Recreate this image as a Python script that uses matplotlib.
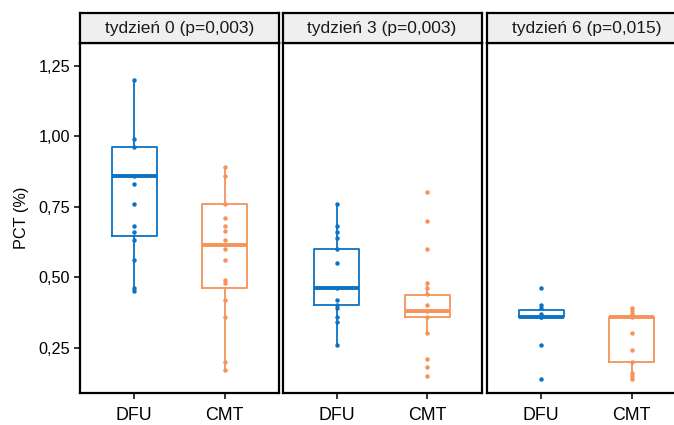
import matplotlib
matplotlib.use("Agg")
import matplotlib.pyplot as plt

plt.rcParams['font.family'] = ['Liberation Sans', 'DejaVu Sans']

panels = ["tydzień 0 (p=0,003)", "tydzień 3 (p=0,003)", "tydzień 6 (p=0,015)"]
groups = ["DFU", "CMT"]
colors = {"DFU": "#0b72c4", "CMT": "#f5935a"}

# raw points
w0_dfu = [1.20, 0.99, 0.96, 0.86, 0.83, 0.76, 0.68, 0.66, 0.63, 0.56, 0.46, 0.45]
w0_cmt = [0.89, 0.86, 0.76, 0.71, 0.68, 0.665, 0.63, 0.60, 0.56, 0.49, 0.48, 0.42, 0.36, 0.20, 0.17]
w3_dfu = [0.76, 0.68, 0.66, 0.64, 0.60, 0.55, 0.46, 0.42, 0.40, 0.39, 0.36, 0.34, 0.26]
w3_cmt = [0.80, 0.70, 0.60, 0.48, 0.46, 0.44, 0.40, 0.38, 0.36, 0.30, 0.21, 0.18, 0.15]
w6_dfu = [0.46, 0.40, 0.39, 0.37, 0.36, 0.36, 0.26, 0.14]
w6_cmt = [0.39, 0.38, 0.37, 0.36, 0.30, 0.24, 0.20, 0.16, 0.15, 0.14]

# box statistics: (whislo, q1, median, q3, whishi)
w0_dfu_box = (0.45, 0.645, 0.86, 0.96, 1.20)
w0_cmt_box = (0.17, 0.46, 0.615, 0.76, 0.89)
w3_dfu_box = (0.26, 0.40, 0.46, 0.60, 0.76)
w3_cmt_box = (0.30, 0.36, 0.38, 0.435, 0.48)
w6_dfu_box = (0.357, 0.357, 0.36, 0.385, 0.40)
w6_cmt_box = (0.14, 0.20, 0.36, 0.36, 0.39)

points = [(w0_dfu, w0_cmt), (w3_dfu, w3_cmt), (w6_dfu, w6_cmt)]
boxes = [(w0_dfu_box, w0_cmt_box), (w3_dfu_box, w3_cmt_box), (w6_dfu_box, w6_cmt_box)]

yticks = [0.25, 0.50, 0.75, 1.00, 1.25]
ytick_labels = ["0,25", "0,50", "0,75", "1,00", "1,25"]
ylabel = "PCT (%)"

W, H = 674, 425
fig = plt.figure(figsize=(W / 100, H / 100), dpi=100)

lefts = [80, 282.5, 487]
pw = 199
bottom_px = 393
top_px = 43
strip_top = 13

for i, left in enumerate(lefts):
    ax = fig.add_axes([left / W, (H - bottom_px) / H, pw / W, (bottom_px - top_px) / H])
    for j, g in enumerate(groups):
        c = colors[g]
        lo, q1, med, q3, hi = boxes[i][j]
        st = [dict(whislo=lo, q1=q1, med=med, q3=q3, whishi=hi, fliers=[], label=g)]
        ax.bxp(st, positions=[j + 1], widths=0.5, showfliers=False, showcaps=False,
               boxprops=dict(color=c, linewidth=1.3),
               whiskerprops=dict(color=c, linewidth=1.3),
               medianprops=dict(color=c, linewidth=2.8, solid_capstyle='butt'))
        pts = points[i][j]
        ax.plot([j + 1] * len(pts), pts, 'o', color=c, markersize=3.2, markeredgewidth=0)
    ax.set_xlim(0.4, 2.6)
    ax.set_ylim(0.089, 1.33)
    ax.set_xticks([1, 2])
    ax.set_xticklabels(groups, fontsize=12.8)
    ax.tick_params(axis='x', length=4, width=1.1, pad=6)
    if i == 0:
        ax.set_yticks(yticks)
        ax.set_yticklabels(ytick_labels, fontsize=11.7)
        ax.tick_params(axis='y', length=4, width=1.1, pad=3)
        ax.set_ylabel(ylabel, fontsize=11.7, labelpad=7)
    else:
        ax.set_yticks([])
    for s in ax.spines.values():
        s.set_linewidth(1.6)
        s.set_color('black')
    # strip
    sax = fig.add_axes([left / W, (H - top_px) / H, pw / W, (top_px - strip_top) / H])
    sax.set_facecolor('#efefef')
    sax.set_xticks([])
    sax.set_yticks([])
    for s in sax.spines.values():
        s.set_linewidth(1.6)
        s.set_color('black')
    sax.text(0.5, 0.5, panels[i], ha='center', va='center', fontsize=12.5,
             transform=sax.transAxes, color='#1a1a1a')

fig.savefig("out.png", dpi=100)
